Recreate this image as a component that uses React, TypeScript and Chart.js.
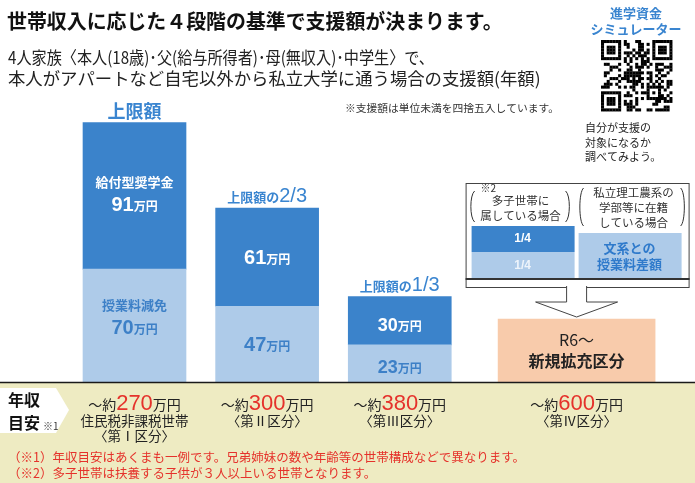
import React, { useEffect, useRef } from 'react';
import { Chart, registerables } from 'chart.js';
Chart.register(...registerables);

// ---- data ----
const categories = ['第Ⅰ区分', '第Ⅱ区分', '第Ⅲ区分', '第Ⅳ区分'];
const tuitionWaiver = [70, 47, 23, null]; // 授業料減免 (万円)
const scholarship = [91, 61, 30, null]; // 給付型奨学金 (万円)
const expansionBox = [null, null, null, 39]; // R6〜 新規拡充区分 (visual block)
const capPrefix = ['上限額', '上限額の', '上限額の', ''];
const capFraction = ['', '2/3', '1/3', ''];
const incomeAmounts = ['270', '300', '380', '600'];
const incomeNotes = [['住民税非課税世帯', '〈第Ⅰ区分〉'], ['〈第Ⅱ区分〉'], ['〈第Ⅲ区分〉'], ['〈第Ⅳ区分〉']];
const footnotes = [
  '（※1）年収目安はあくまも一例です。兄弟姉妹の数や年齢等の世帯構成などで異なります。',
  '（※2）多子世帯は扶養する子供が３人以上いる世帯となります。',
];

// layout: category columns sit in slots of an 11-slot band axis (wider gap before the new category)
const SLOT_COUNT = 11;
const columnSlots = [0, 3, 6, 10];

const JP = '"Noto Sans CJK JP", "Noto Sans", sans-serif';
const NUM = '"Liberation Sans", Arial, sans-serif';
const DARK = '#3b83cb';
const LIGHT = '#aecbe9';
const PEACH = '#f8cbab';
const BAND = '#eeebc2';
const BLUE_TXT = '#3a85d0';
const LIGHT_TXT = '#3d80c7';
const RED = '#e5322b';

function spread(values: (number | null)[]): (number | null)[] {
  const out: (number | null)[] = new Array(SLOT_COUNT).fill(null);
  values.forEach((v, i) => { out[columnSlots[i]] = v; });
  return out;
}
function spreadLabels(): string[] {
  const out: string[] = new Array(SLOT_COUNT).fill('');
  categories.forEach((c, i) => { out[columnSlots[i]] = c; });
  return out;
}

type Part = { text: string; font: string; color: string };

function rich(ctx: CanvasRenderingContext2D, parts: Part[], cx: number, baseline: number) {
  let total = 0;
  const ws = parts.map((p) => {
    ctx.font = p.font;
    const w = ctx.measureText(p.text).width;
    total += w;
    return w;
  });
  let x = cx - total / 2;
  ctx.textAlign = 'left';
  ctx.textBaseline = 'alphabetic';
  parts.forEach((p, i) => {
    ctx.font = p.font;
    ctx.fillStyle = p.color;
    ctx.fillText(p.text, x, baseline);
    x += ws[i];
  });
}

function txt(ctx: CanvasRenderingContext2D, text: string, x: number, y: number, font: string, color: string, align: CanvasTextAlign = 'center', maxWidth?: number) {
  ctx.font = font;
  ctx.fillStyle = color;
  ctx.textAlign = align;
  ctx.textBaseline = 'middle';
  if (maxWidth) ctx.fillText(text, x, y, maxWidth);
  else ctx.fillText(text, x, y);
}

function fitSize(ctx: CanvasRenderingContext2D, text: string, width: number, weight: string): number {
  ctx.font = `${weight} 100px ${JP}`;
  const w = ctx.measureText(text).width;
  return (100 * width) / w;
}

function fit(ctx: CanvasRenderingContext2D, text: string, x: number, y: number, width: number, weight: string, color: string) {
  const size = fitSize(ctx, text, width, weight);
  txt(ctx, text, x, y, `${weight} ${size}px ${JP}`, color, 'left');
}

function bracket(ctx: CanvasRenderingContext2D, x: number, y1: number, y2: number, dir: number) {
  ctx.beginPath();
  ctx.moveTo(x + 4 * dir, y1);
  ctx.bezierCurveTo(x - 1 * dir, y1 + 4, x - 1 * dir, y2 - 4, x + 4 * dir, y2);
  ctx.strokeStyle = '#333';
  ctx.lineWidth = 1;
  ctx.stroke();
}

function qrCell(r: number, c: number, n: number): boolean {
  const finder = (r0: number, c0: number) => {
    const rr = r - r0, cc = c - c0;
    if (rr < 0 || rr > 6 || cc < 0 || cc > 6) return null;
    if (rr === 0 || rr === 6 || cc === 0 || cc === 6) return true;
    if (rr >= 2 && rr <= 4 && cc >= 2 && cc <= 4) return true;
    return false;
  };
  for (const [a, b] of [[0, 0], [0, n - 7], [n - 7, 0]]) {
    const f = finder(a, b);
    if (f !== null) return f;
  }
  if ((r === 7 && (c < 8 || c > n - 9)) || (c === 7 && (r < 8 || r > n - 9))) return false;
  if (r === n - 8 && c < 8) return false;
  if (c === n - 8 && r < 8) return false;
  if (r === 6) return c % 2 === 0;
  if (c === 6) return r % 2 === 0;
  const ar = r - (n - 9), ac = c - (n - 9);
  if (ar >= 0 && ar <= 4 && ac >= 0 && ac <= 4) {
    return ar === 0 || ar === 4 || ac === 0 || ac === 4 || (ar === 2 && ac === 2);
  }
  const h = ((r * 37 + c * 11) ^ (r * c * 5 + 3)) % 7;
  return h < 3;
}

const decorPlugin = {
  id: 'decor',
  beforeDraw(chart: any) {
    const ctx: CanvasRenderingContext2D = chart.ctx;
    const W = chart.width, H = chart.height;
    const base = chart.scales.y.getPixelForValue(0);
    ctx.save();
    ctx.fillStyle = '#ffffff';
    ctx.fillRect(0, 0, W, H);
    ctx.fillStyle = BAND;
    ctx.fillRect(0, base + 1, W, H - base);
    ctx.restore();
  },
  afterDatasetsDraw(chart: any) {
    const ctx: CanvasRenderingContext2D = chart.ctx;
    const W = chart.width;
    const base = chart.scales.y.getPixelForValue(0);
    ctx.save();

    // baseline
    ctx.strokeStyle = '#1a1a1a';
    ctx.lineWidth = 1.5;
    ctx.beginPath();
    ctx.moveTo(0, base + 0.5);
    ctx.lineTo(W, base + 0.5);
    ctx.stroke();

    // title & subtitle
    fit(ctx, '世帯収入に応じた４段階の基準で支援額が決まります。', 7, 21, 496, 'bold', '#111');
    const sub1 = '4人家族〈本人(18歳)･父(給与所得者)･母(無収入)･中学生〉で、';
    const sub2 = '本人がアパートなど自宅以外から私立大学に通う場合の支援額(年額)';
    const subSize = fitSize(ctx, sub2, 533, 'normal');
    txt(ctx, sub1, 8, 57, `${subSize}px ${JP}`, '#222', 'left', 426);
    txt(ctx, sub2, 8, 78, `${subSize}px ${JP}`, '#222', 'left');
    fit(ctx, '※支援額は単位未満を四捨五入しています。', 345, 108, 214, 'normal', '#333');

    // simulator block
    txt(ctx, '進学資金', 636, 13, `bold 13px ${JP}`, BLUE_TXT);
    txt(ctx, 'シミュレーター', 636, 29, `bold 13px ${JP}`, BLUE_TXT);
    const n = 25, qx = 601, qy = 40, qs = 2.85;
    ctx.fillStyle = '#000';
    for (let r = 0; r < n; r++) for (let c = 0; c < n; c++) {
      if (qrCell(r, c, n)) ctx.fillRect(qx + c * qs, qy + r * qs, qs + 0.2, qs + 0.2);
    }
    txt(ctx, '自分が支援の', 585, 128, `11px ${JP}`, '#222', 'left');
    txt(ctx, '対象になるか', 585, 143, `11px ${JP}`, '#222', 'left');
    txt(ctx, '調べてみよう。', 585, 157, `11px ${JP}`, '#222', 'left');

    const m0 = chart.getDatasetMeta(0), m1 = chart.getDatasetMeta(1), m2 = chart.getDatasetMeta(2);
    const el = (meta: any, i: number) => meta.data[columnSlots[i]];

    // bars 1-3 labels
    for (let i = 0; i < 3; i++) {
      const light = el(m0, i), dark = el(m1, i);
      const cx = dark.x;
      const top = dark.y, mid = light.y, bottom = light.base;
      const dc = (top + mid) / 2, lc = (mid + bottom) / 2;
      if (capFraction[i]) {
        rich(ctx, [
          { text: capPrefix[i], font: `bold 13px ${JP}`, color: BLUE_TXT },
          { text: capFraction[i], font: `20px ${NUM}`, color: BLUE_TXT },
        ], cx, top - 6);
      } else {
        rich(ctx, [{ text: capPrefix[i], font: `bold 18px ${JP}`, color: BLUE_TXT }], cx, top - 5);
      }
      const numSize = i === 2 ? 18 : 20;
      if (i === 0) {
        txt(ctx, '給付型奨学金', cx, dc - 14, `bold 13px ${JP}`, '#fff');
        rich(ctx, [
          { text: String(scholarship[i]), font: `bold ${numSize}px ${NUM}`, color: '#fff' },
          { text: '万円', font: `bold 12px ${JP}`, color: '#fff' },
        ], cx, dc + 15);
        txt(ctx, '授業料減免', cx, lc - 21, `bold 13px ${JP}`, LIGHT_TXT);
        rich(ctx, [
          { text: String(tuitionWaiver[i]), font: `bold ${numSize}px ${NUM}`, color: LIGHT_TXT },
          { text: '万円', font: `bold 12px ${JP}`, color: LIGHT_TXT },
        ], cx, lc + 8);
      } else {
        rich(ctx, [
          { text: String(scholarship[i]), font: `bold ${numSize}px ${NUM}`, color: '#fff' },
          { text: '万円', font: `bold 12px ${JP}`, color: '#fff' },
        ], cx, dc + 7 + (i === 2 ? 3 : 0));
        rich(ctx, [
          { text: String(tuitionWaiver[i]), font: `bold ${numSize}px ${NUM}`, color: LIGHT_TXT },
          { text: '万円', font: `bold 12px ${JP}`, color: LIGHT_TXT },
        ], cx, lc + 7 + (i === 2 ? 3 : 0));
      }
    }

    // bar 4 (new category) and explanation box
    const b4 = el(m2, 3);
    const cx4 = b4.x;
    const oc = (b4.y + b4.base) / 2;
    txt(ctx, 'R6〜', cx4, oc - 11, `16px ${JP}`, '#222');
    txt(ctx, '新規拡充区分', cx4, oc + 10, `bold 16px ${JP}`, '#222');

    const bx = cx4 - 111, by = 183, bw = 223, bh = 104;
    ctx.fillStyle = '#fff';
    ctx.fillRect(bx, by, bw, bh);
    ctx.strokeStyle = '#444';
    ctx.lineWidth = 1;
    ctx.strokeRect(bx + 0.5, by + 0.5, bw, bh);
    // left column
    txt(ctx, '※2', bx + 15, 188, `10px ${JP}`, '#333', 'left');
    bracket(ctx, bx + 5, 191, 222, 1);
    bracket(ctx, bx + 104, 191, 222, -1);
    txt(ctx, '多子世帯に', bx + 55, 201, `11.5px ${JP}`, '#333');
    txt(ctx, '属している場合', bx + 55, 216, `11.5px ${JP}`, '#333');
    ctx.fillStyle = DARK;
    ctx.fillRect(bx + 6, 226, 103, 26);
    ctx.fillStyle = LIGHT;
    ctx.fillRect(bx + 6, 252, 103, 26);
    txt(ctx, '1/4', bx + 57, 239, `bold 12px ${NUM}`, '#fff');
    txt(ctx, '1/4', bx + 57, 266, `bold 12px ${NUM}`, '#eef4fb');
    // right column
    bracket(ctx, bx + 114, 188, 226, 1);
    bracket(ctx, bx + 219, 188, 226, -1);
    txt(ctx, '私立理工農系の', bx + 168, 193, `11.5px ${JP}`, '#333');
    txt(ctx, '学部等に在籍', bx + 168, 208, `11.5px ${JP}`, '#333');
    txt(ctx, 'している場合', bx + 168, 223, `11.5px ${JP}`, '#333');
    ctx.fillStyle = LIGHT;
    ctx.fillRect(bx + 113, 233, 103, 45);
    txt(ctx, '文系との', bx + 164, 248, `bold 13px ${JP}`, '#2f7acb');
    txt(ctx, '授業料差額', bx + 164, 264, `bold 13px ${JP}`, '#2f7acb');
    // double line
    ctx.strokeStyle = '#333';
    ctx.lineWidth = 2;
    ctx.beginPath();
    ctx.moveTo(bx, 279);
    ctx.lineTo(bx + bw + 1, 279);
    ctx.stroke();
    // arrow
    const ax = cx4;
    ctx.beginPath();
    ctx.moveTo(ax - 10, by + bh - 1);
    ctx.lineTo(ax - 10, 302);
    ctx.lineTo(ax - 41, 302);
    ctx.lineTo(ax, 317);
    ctx.lineTo(ax + 41, 302);
    ctx.lineTo(ax + 10, 302);
    ctx.lineTo(ax + 10, by + bh - 1);
    ctx.fillStyle = '#fff';
    ctx.fill();
    ctx.strokeStyle = '#444';
    ctx.lineWidth = 1;
    ctx.stroke();

    // income band
    ctx.beginPath();
    ctx.moveTo(0, 388);
    ctx.lineTo(56, 388);
    ctx.lineTo(69, 410);
    ctx.lineTo(56, 433);
    ctx.lineTo(0, 433);
    ctx.closePath();
    ctx.fillStyle = '#fff';
    ctx.fill();
    txt(ctx, '年収', 8, 400, `bold 16px ${JP}`, '#111', 'left');
    txt(ctx, '目安', 8, 423, `bold 16px ${JP}`, '#111', 'left');
    txt(ctx, '※1', 43, 426, `10px ${JP}`, '#333', 'left');

    for (let i = 0; i < 4; i++) {
      const e = i < 3 ? el(m1, i) : el(m2, i);
      const cx = e.x;
      rich(ctx, [
        { text: '〜約', font: `14px ${JP}`, color: '#222' },
        { text: incomeAmounts[i], font: `22px ${NUM}`, color: RED },
        { text: '万円', font: `14px ${JP}`, color: '#222' },
      ], cx, 410);
      incomeNotes[i].forEach((t, k) => {
        txt(ctx, t, cx, 421 + k * 15, `13.5px ${JP}`, '#222');
      });
    }

    txt(ctx, footnotes[0], 8, 457, `12.5px ${JP}`, RED, 'left');
    txt(ctx, footnotes[1], 8, 473, `12.5px ${JP}`, RED, 'left');
    ctx.restore();
  },
};

export default function App() {
  const ref = useRef<HTMLCanvasElement | null>(null);
  useEffect(() => {
    if (!ref.current) return;
    const chart = new Chart(ref.current, {
      type: 'bar',
      data: {
        labels: spreadLabels(),
        datasets: [
          { label: '授業料減免', data: spread(tuitionWaiver), backgroundColor: LIGHT, barThickness: 103, borderWidth: 0, clip: false },
          { label: '給付型奨学金', data: spread(scholarship), backgroundColor: DARK, barThickness: 103, borderWidth: 0, clip: false },
          { label: 'R6〜新規拡充区分', data: spread(expansionBox), backgroundColor: PEACH, barThickness: 157, borderWidth: 0, clip: false },
        ],
      },
      options: {
        responsive: false,
        animation: false,
        devicePixelRatio: 1,
        layout: { padding: { left: 112.4, right: 96.3, top: 100, bottom: 101 } },
        scales: {
          x: { display: false, stacked: true },
          y: { display: false, stacked: true, min: 0, max: 175 },
        },
        plugins: { legend: { display: false }, tooltip: { enabled: false }, title: { display: false } },
      },
      plugins: [decorPlugin],
    } as any);
    return () => chart.destroy();
  }, []);
  return (
    <div style={{ position: 'absolute', left: 0, top: 0, width: 695, height: 483 }}>
      <canvas ref={ref} width={695} height={483} style={{ display: 'block', width: 695, height: 483 }} />
    </div>
  );
}
